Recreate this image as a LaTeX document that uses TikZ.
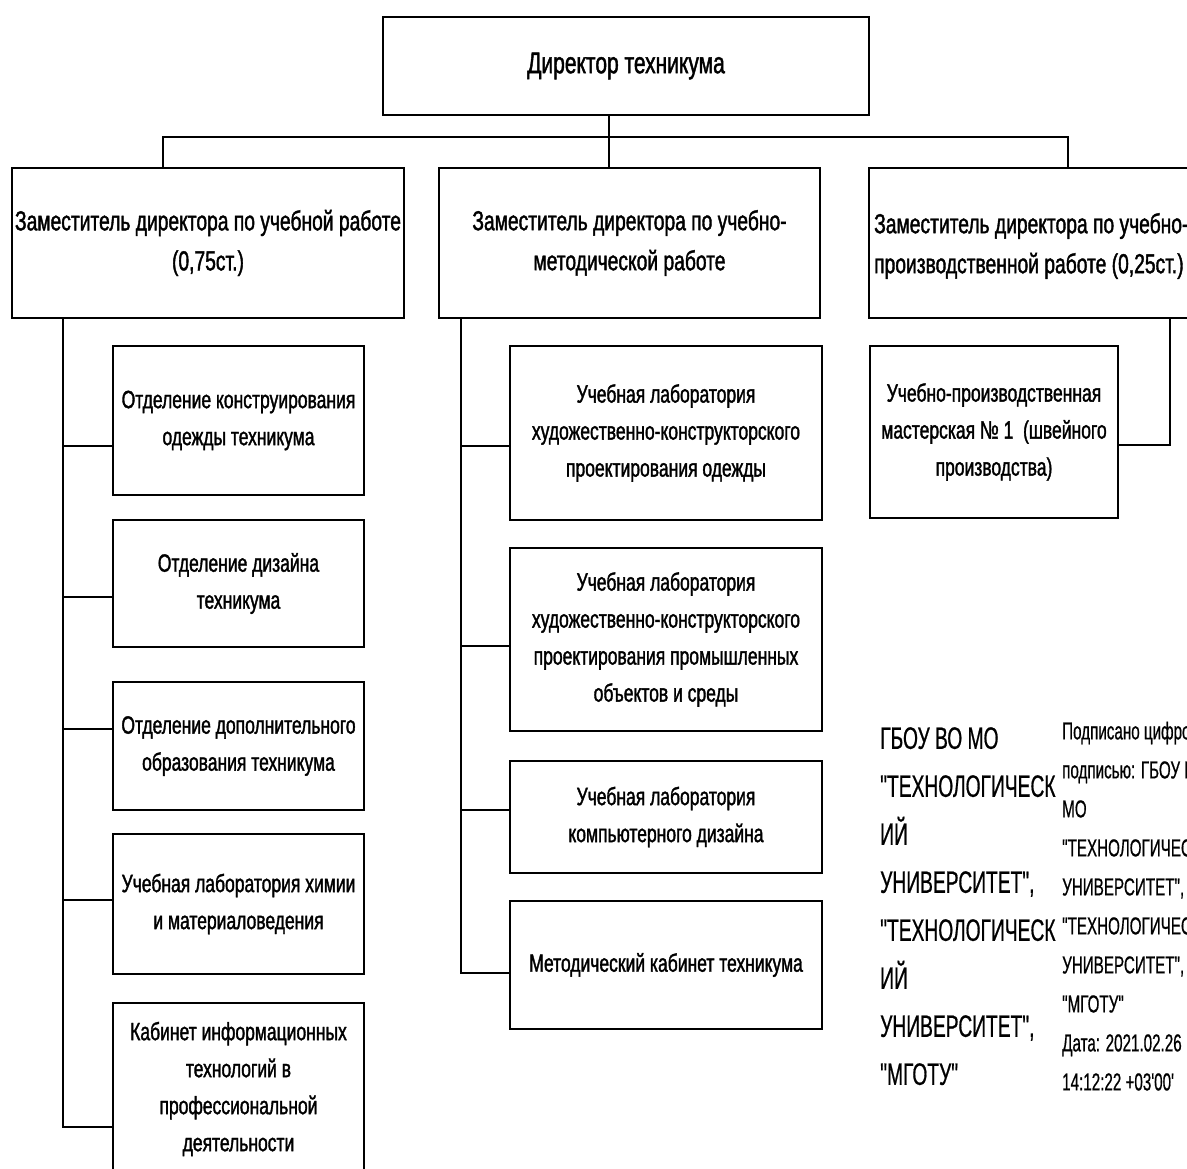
\documentclass[tikz,border=0pt]{standalone}
\usepackage{fontspec}
\setmainfont{Liberation Sans}[FakeStretch=0.7,FakeBold=1.4]
\newfontfamily\sigfont{Liberation Sans}[FakeStretch=0.62,FakeBold=0.6]
\begin{document}
\begin{tikzpicture}[x=1pt,y=-1pt,
  box/.style={draw, line width=2.4pt, inner sep=0pt, align=center, text=black},
  dep/.style={box, font=\fontsize{27.5}{40}\selectfont},
  sub/.style={box, font=\fontsize{25}{37}\selectfont},
  lnk/.style={line width=2.2pt}]
\useasboundingbox (0,0) rectangle (1187,1169);
\clip (0,0) rectangle (1187,1169);
% top
\node[box, font=\fontsize{30}{40}\selectfont, minimum width=486pt, minimum height=98pt] (dir) at (626,66) {Директор техникума};
% deputies
\node[dep, minimum width=392pt, minimum height=150pt] (depL) at (208,243) {Заместитель директора по учебной работе\\(0,75ст.)};
\node[dep, minimum width=381pt, minimum height=150pt] (depM) at (629.5,243) {Заместитель директора по учебно-\\методической работе};
\node[box, minimum width=331pt, minimum height=150pt] (depR) at (1034.5,243) {};
\node[inner sep=0pt, anchor=west, align=left, font=\fontsize{27.5}{40}\selectfont] (depRt) at (874,246) {Заместитель директора по учебно-\\производственной работе (0,25ст.)};
% left children
\node[sub, minimum width=251pt, minimum height=149pt] (L1) at (238.5,420.5) {Отделение конструирования\\одежды техникума};
\node[sub, minimum width=251pt, minimum height=127pt] (L2) at (238.5,583.5) {Отделение дизайна\\техникума};
\node[sub, minimum width=251pt, minimum height=128pt] (L3) at (238.5,746) {Отделение дополнительного\\образования техникума};
\node[sub, minimum width=251pt, minimum height=140pt] (L4) at (238.5,904) {Учебная лаборатория химии\\и материаловедения};
\node[sub, minimum width=251pt, minimum height=172pt] (L5) at (238.5,1089) {Кабинет информационных\\технологий в\\профессиональной\\деятельности};
% middle children
\node[sub, minimum width=312pt, minimum height=174pt] (M1) at (666,433) {Учебная лаборатория\\художественно-конструкторского\\проектирования одежды};
\node[sub, minimum width=312pt, minimum height=183pt] (M2) at (666,639.5) {Учебная лаборатория\\художественно-конструкторского\\проектирования промышленных\\объектов и среды};
\node[sub, minimum width=312pt, minimum height=112pt] (M3) at (666,817) {Учебная лаборатория\\компьютерного дизайна};
\node[sub, minimum width=312pt, minimum height=128pt] (M4) at (666,965) {Методический кабинет техникума};
% right child
\node[sub, minimum width=248pt, minimum height=172pt] (R1) at (994,432) {Учебно-производственная\\мастерская № 1\ \ (швейного\\производства)};
% connectors
\coordinate (b0) at (609,137);
\coordinate (bl) at (163,137);
\coordinate (br) at (1068,137);
\draw[lnk] (dir.south -| b0) -- (depM.north -| b0);
\draw[lnk] (depL.north -| bl) |- (br) -- (depR.north -| br);
\coordinate (sl) at (63,318);
\draw[lnk] (depL.south -| sl) -- (sl |- 0,1127) -- (L5.west |- 0,1127);
\draw[lnk] (sl |- 0,446) -- (L1.west |- 0,446);
\draw[lnk] (sl |- 0,597) -- (L2.west |- 0,597);
\draw[lnk] (sl |- 0,729) -- (L3.west |- 0,729);
\draw[lnk] (sl |- 0,900) -- (L4.west |- 0,900);
\coordinate (sm) at (461,318);
\draw[lnk] (depM.south -| sm) -- (sm |- 0,973) -- (M4.west |- 0,973);
\draw[lnk] (sm |- 0,446) -- (M1.west |- 0,446);
\draw[lnk] (sm |- 0,646) -- (M2.west |- 0,646);
\draw[lnk] (sm |- 0,810) -- (M3.west |- 0,810);
\coordinate (sr) at (1170,318);
\draw[lnk] (depR.south -| sr) -- (sr |- 0,445) -- (R1.east |- 0,445);
% signature
\node[inner sep=0pt, anchor=north west, align=left, font=\sigfont\fontsize{31}{48}\selectfont] (sig1) at (880,727) {ГБОУ ВО МО\\"ТЕХНОЛОГИЧЕСК\\ИЙ\\УНИВЕРСИТЕТ",\\"ТЕХНОЛОГИЧЕСК\\ИЙ\\УНИВЕРСИТЕТ",\\"МГОТУ"};
\node[inner sep=0pt, anchor=north west, align=left, font=\sigfont\fontsize{24.5}{39}\selectfont] (sig2) at (1062,721) {Подписано цифровой\\подписью: ГБОУ ВО\\МО\\"ТЕХНОЛОГИЧЕСКИЙ\\УНИВЕРСИТЕТ",\\"ТЕХНОЛОГИЧЕСКИЙ\\УНИВЕРСИТЕТ",\\"МГОТУ"\\Дата: 2021.02.26\\14:12:22 +03'00'};
\end{tikzpicture}
\end{document}
